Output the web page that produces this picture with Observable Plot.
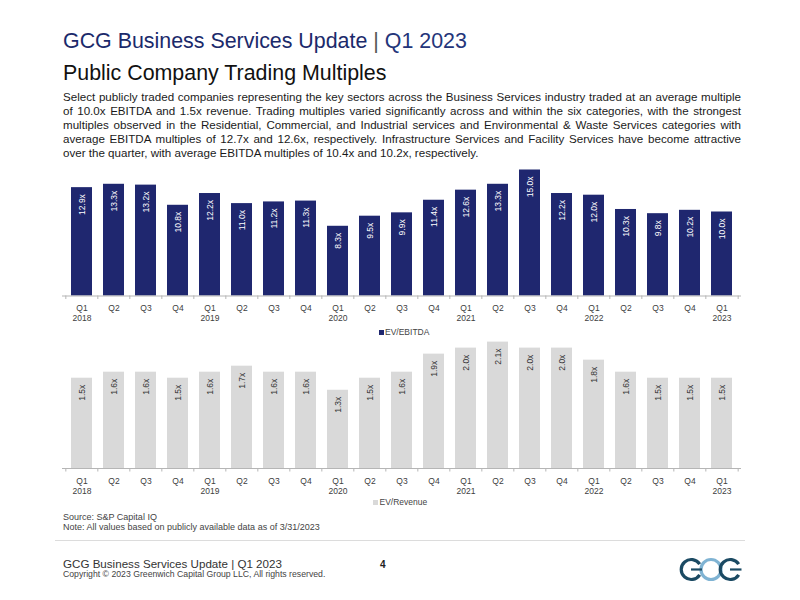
<!DOCTYPE html>
<html>
<head>
<meta charset="utf-8">
<script src="https://cdn.jsdelivr.net/npm/d3@7"></script>
<script src="https://cdn.jsdelivr.net/npm/@observablehq/plot@0.6"></script>
<style>
  html, body { margin: 0; padding: 0; background: #fff; }
  body { width: 800px; height: 600px; position: relative; overflow: hidden;
         font-family: "Liberation Sans", Arial, sans-serif; }
  .abs { position: absolute; white-space: nowrap; line-height: 1; }
  #title { left: 63px; top: 30.5px; font-size: 21.4px; color: #1b2a6b; }
  #title .pipe { color: #555; }
  #title .qtr { color: #24357a; }
  #subtitle { left: 63px; top: 63.2px; font-size: 21.4px; color: #111; }
  #para { position: absolute; left: 63px; top: 89.8px; width: 678px; font-size: 11.6px;
          line-height: 14.1px; color: #1a1a1a; }
  #para .ln { white-space: nowrap; text-align: justify; text-align-last: justify; }
  #para .ln.last { text-align-last: left; }
  .chart { position: absolute; left: 0; }
  .legend { position: absolute; font-size: 8.5px; color: #444; line-height: 1; white-space: nowrap; }
  .legend .sw { display: inline-block; width: 5px; height: 5px; margin-right: 1.5px; vertical-align: 0px; }
  .note { font-size: 9px; color: #444; left: 63px; }
  #rule { position: absolute; left: 55px; top: 540px; width: 690px; height: 1px; background: #dcdcdc; }
  #ftitle { left: 63px; top: 557.7px; font-size: 11.6px; color: #333; }
  #copy { left: 63px; top: 569.5px; font-size: 8.7px; color: #444; }
  #page { left: 380px; top: 560.3px; font-size: 10px; color: #222; font-weight: bold; }
  #logo { position: absolute; left: 678px; top: 555px; }
</style>
</head>
<body>
<div id="title" class="abs">GCG Business Services Update <span class="pipe">|</span> <span class="qtr">Q1 2023</span></div>
<div id="subtitle" class="abs">Public Company Trading Multiples</div>
<div id="para">
  <div class="ln">Select publicly traded companies representing the key sectors across the Business Services industry traded at an average multiple</div>
  <div class="ln">of 10.0x EBITDA and 1.5x revenue. Trading multiples varied significantly across and within the six categories, with the strongest</div>
  <div class="ln">multiples observed in the Residential, Commercial, and Industrial services and Environmental &amp; Waste Services categories with</div>
  <div class="ln">average EBITDA multiples of 12.7x and 12.6x, respectively. Infrastructure Services and Facility Services have become attractive</div>
  <div class="ln last">over the quarter, with average EBITDA multiples of 10.4x and 10.2x, respectively.</div>
</div>

<div id="ebitda" class="chart" style="top:160px"></div>
<div class="legend" style="left:378.5px; top:327.6px"><span class="sw" style="background:#1f276f"></span>EV/EBITDA</div>

<div id="revenue" class="chart" style="top:340px"></div>
<div class="legend" style="left:373px; top:497.9px"><span class="sw" style="background:#d9d9d9"></span>EV/Revenue</div>

<div class="abs note" style="top:512.5px">Source: S&amp;P Capital IQ</div>
<div class="abs note" style="top:523.2px">Note: All values based on publicly available data as of 3/31/2023</div>
<div id="rule"></div>
<div id="ftitle" class="abs">GCG Business Services Update | Q1 2023</div>
<div id="copy" class="abs">Copyright © 2023 Greenwich Capital Group LLC, All rights reserved.</div>
<div id="page" class="abs">4</div>

<svg id="logo" width="66" height="30" viewBox="0 0 66 30">
  <!-- GCG mark: two dark G rings around a light C ring -->
  <circle cx="33" cy="14.5" r="10" fill="none" stroke="#7fb3d3" stroke-width="3.2"/>
  <path d="M21.7 9.2 A10 10 0 1 0 21.7 19.8" fill="none" stroke="#1b4a63" stroke-width="3.2"/>
  <line x1="13" y1="14.5" x2="24" y2="14.5" stroke="#1b4a63" stroke-width="2.2"/>
  <path d="M60.7 9.2 A10 10 0 1 0 60.7 19.8" fill="none" stroke="#1b4a63" stroke-width="3.2"/>
  <line x1="52" y1="14.5" x2="63.5" y2="14.5" stroke="#1b4a63" stroke-width="2.2"/>
</svg>

<script>
// Quarterly trading multiples, Q1 2018 – Q1 2023
const quarters = ["Q1","Q2","Q3","Q4","Q1","Q2","Q3","Q4","Q1","Q2","Q3","Q4","Q1","Q2","Q3","Q4","Q1","Q2","Q3","Q4","Q1"];
const years    = ["2018","2018","2018","2018","2019","2019","2019","2019","2020","2020","2020","2020","2021","2021","2021","2021","2022","2022","2022","2022","2023"];
const evEbitda  = [12.9, 13.3, 13.2, 10.8, 12.2, 11.0, 11.2, 11.3, 8.3, 9.5, 9.9, 11.4, 12.6, 13.3, 15.0, 12.2, 12.0, 10.3, 9.8, 10.2, 10.0];
const evRevenue = [1.5, 1.6, 1.6, 1.5, 1.6, 1.7, 1.6, 1.6, 1.3, 1.5, 1.6, 1.9, 2.0, 2.1, 2.0, 2.0, 1.8, 1.6, 1.5, 1.5, 1.5];

const keys = quarters.map((q, i) => `${years[i]} ${q}`);
// Year shown under each Q1 tick only
const tickText = new Map(keys.map((k, i) => [k, quarters[i] === "Q1" ? `${quarters[i]}\n${years[i]}` : quarters[i]]));

const NAVY = "#1f276f";
const GREY = "#d9d9d9";
const FONT = "'Liberation Sans', Arial, sans-serif";
const W = 800, ML = 62, MR = 59;
const step = (W - ML - MR) / keys.length;

function barChart(values, {yMax, height, marginTop, marginBottom, fill, labelFill}) {
  const rows = keys.map((k, i) => ({key: k, v: values[i]}));
  const pxPerUnit = (height - marginTop - marginBottom) / yMax;
  const tickLen = 3.5 / pxPerUnit;
  return Plot.plot({
    width: W, height, marginLeft: ML, marginRight: MR, marginTop, marginBottom,
    style: {fontFamily: FONT, fontSize: "8.5px", color: "#404040", background: "transparent", overflow: "visible"},
    x: {domain: keys, paddingInner: 0.34, paddingOuter: 0.17, axis: null},
    y: {domain: [0, yMax], axis: null},
    marks: [
      Plot.barY(rows, {x: "key", y: "v", fill}),
      Plot.ruleY([0], {stroke: "#b5b5b5", strokeWidth: 1}),
      // ticks sit on the boundaries between quarters
      Plot.ruleX(rows, {x: "key", y1: 0, y2: -tickLen, dx: -step / 2, stroke: "#b5b5b5"}),
      Plot.ruleX(rows.slice(-1), {x: "key", y1: 0, y2: -tickLen, dx: step / 2, stroke: "#b5b5b5"}),
      Plot.text(rows, {x: "key", y: "v", text: d => d.v.toFixed(1) + "x", rotate: -90,
                       textAnchor: "end", dy: 6.5, fill: labelFill, fontSize: 8.5}),
      Plot.axisX({tickSize: 0, tickPadding: 8, fontSize: 8.5, lineHeight: 1.2, label: null,
                  tickFormat: k => tickText.get(k)})
    ]
  });
}

document.getElementById("ebitda").append(barChart(evEbitda, {
  yMax: 15, height: 180, marginTop: 9.5, marginBottom: 44.5, fill: NAVY, labelFill: "#ffffff"
}));
document.getElementById("revenue").append(barChart(evRevenue, {
  yMax: 2.1, height: 170, marginTop: 1.6, marginBottom: 42, fill: GREY, labelFill: "#333333"
}));
</script>
</body>
</html>
